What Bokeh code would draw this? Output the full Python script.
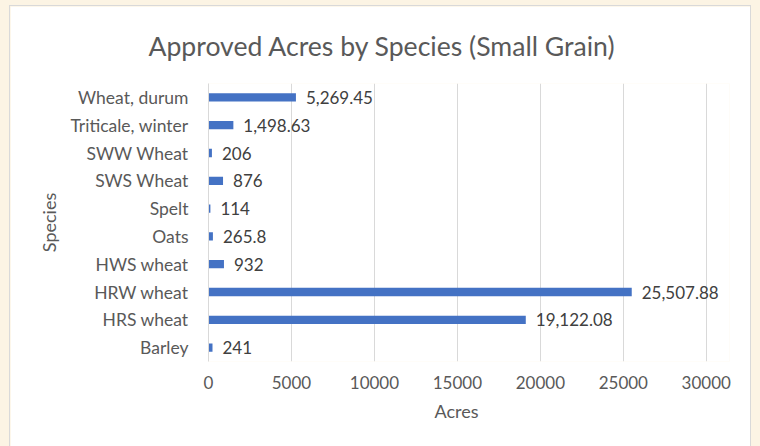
from bokeh.plotting import figure
from bokeh.models import ColumnDataSource, Range1d, FactorRange, FixedTicker, LabelSet, Title
from bokeh.core.properties import value
from bokeh.embed import file_html
from bokeh.resources import INLINE

species = ["Barley", "HRS wheat", "HRW wheat", "HWS wheat", "Oats", "Spelt",
           "SWS Wheat", "SWW Wheat", "Triticale, winter", "Wheat, durum"]
acres = [241, 19122.08, 25507.88, 932, 265.8, 114, 876, 206, 1498.63, 5269.45]
x_ticks = [0, 5000, 10000, 15000, 20000, 25000, 30000]

labels = [f"{v:,.2f}".rstrip("0").rstrip(".") for v in acres]
src = ColumnDataSource(dict(species=species, acres=acres, labels=labels))

FONT = "Lato"
GREY = "#595959"

# x range extends a little past the last tick so the longest data label is not clipped
p = figure(width=740, height=440, output_backend="svg", toolbar_location=None,
           y_range=FactorRange(*species), x_range=Range1d(0, 31400),
           min_border_left=198, min_border_right=21, min_border_top=76,
           min_border_bottom=85)
p.title.text = "Approved Acres by Species (Small Grain)"
p.title.align = "left"
p.title.offset = -60
p.title.standoff = 43
p.title.text_font = FONT
p.title.text_font_style = "normal"
p.title.text_font_size = "26.6px"
p.title.text_color = GREY

p.hbar(y="species", right="acres", left=0, height=0.3, source=src,
       fill_color="#4472C4", line_color=None)
p.add_layout(LabelSet(x="acres", y="species", text="labels", source=src, x_offset=10,
                      text_baseline="middle", text_align="left", text_font=value(FONT),
                      text_font_size="17px", text_color="#404040"))

p.xaxis.ticker = FixedTicker(ticks=x_ticks)
for ax in (p.xaxis[0], p.yaxis[0]):
    ax.axis_line_color = None
    ax.major_tick_line_color = None
    ax.minor_tick_line_color = None
    ax.major_label_text_font = FONT
    ax.major_label_text_color = GREY
    ax.axis_label_text_font = FONT
    ax.axis_label_text_font_style = "normal"
    ax.axis_label_text_font_size = "18px"
    ax.axis_label_text_color = GREY
p.xaxis.major_label_text_font_size = "17px"
p.yaxis.major_label_text_font_size = "17.5px"
p.yaxis.axis_line_color = "#D9D9D9"
p.yaxis.axis_label = "Species"
p.xaxis.major_label_standoff = 8
p.yaxis.major_label_standoff = 14
p.yaxis.axis_label_standoff = 7

p.add_layout(Title(text="Acres", align="left", offset=226, standoff=12,
                   text_font=FONT, text_font_style="normal", text_font_size="18px",
                   text_color=GREY), "below")

p.xgrid.grid_line_color = "#D9D9D9"
p.ygrid.grid_line_color = None
p.outline_line_color = None
p.background_fill_color = "white"
p.border_fill_color = "white"
p.styles = {"margin-left": "10px", "margin-top": "6px",
            "outline": "1px solid #D9D9D9"}

html = file_html(p, INLINE)
html = html.replace("</head>", "<style>body{background:#FCF4E4;}</style></head>", 1)
open("out.html", "w").write(html)
